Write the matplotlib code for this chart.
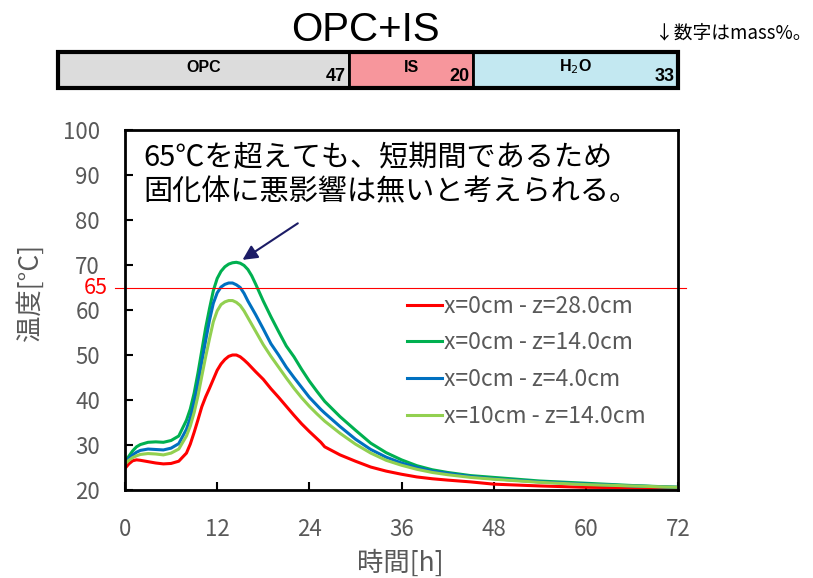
import matplotlib
matplotlib.use('Agg')
import matplotlib.pyplot as plt

plt.rcParams['font.family'] = ['Noto Sans CJK JP', 'DejaVu Sans']

# composition bar (mass%)
parts = ['OPC', 'IS', 'H$_2$O']
part_pct = [47, 20, 33]
part_colors = ['#DCDCDC', '#F7969C', '#C3E8F1']

# temperature curves
hours = [0, 0.5, 1, 1.5, 2, 3, 4, 5, 6, 7,
         8, 8.5, 9, 9.5, 10, 10.5, 11, 11.5, 12, 12.5, 13, 13.5, 14, 14.5, 15, 15.5, 16, 16.5,
         17, 18, 19, 20, 21, 22, 23, 24,
         25, 25.5, 26,
         28, 30, 32, 34, 36, 38, 40, 42,
         45, 48, 54, 60, 66, 72]
t_x0_z28 = [24.8, 25.8, 26.5, 26.7, 26.6, 26.3, 26.0, 25.8, 25.9, 26.4,
            28.2, 30.2, 32.8, 35.6, 38.5, 40.7, 42.6, 44.6, 46.6, 48.0, 49.0, 49.7, 50.0, 50.0,
            49.6, 48.9, 48.1, 47.2,
            46.3, 44.6, 42.5, 40.6, 38.6, 36.6, 34.7, 33.0,
            31.4, 30.6, 29.6,
            27.8, 26.4, 25.1, 24.2, 23.5, 22.9, 22.5, 22.2,
            21.8, 21.3, 20.9, 20.6, 20.5, 20.4]
t_x0_z14 = [26.2, 27.5, 28.7, 29.6, 30.1, 30.6, 30.7, 30.6, 31.0, 32.0,
            35.5, 38.0, 41.5, 46.0, 51.0, 56.0, 60.3, 64.3, 67.0, 68.6, 69.6, 70.2, 70.5, 70.6,
            70.4, 69.9, 69.0, 67.6,
            65.8, 62.0, 58.5, 55.2, 52.0, 49.6, 46.8, 44.2,
            41.9, 40.8, 39.7,
            36.3, 33.3, 30.4, 28.3, 26.7, 25.4, 24.5, 23.9,
            23.2, 22.8, 22.0, 21.5, 21.0, 20.6]
t_x0_z4 = [26.0, 27.0, 27.8, 28.4, 28.8, 29.1, 29.0, 28.9, 29.3, 30.3,
           33.5, 36.0, 39.5, 43.7, 48.5, 53.2, 57.7, 61.5, 63.8, 65.1, 65.7, 66.0, 66.0, 65.6,
           65.0, 63.7, 62.0, 60.5,
           59.0, 55.8, 52.5, 50.0, 47.3, 45.0, 42.8, 40.6,
           38.8, 37.9, 37.1,
           34.1, 31.3, 29.0, 27.3, 26.0, 25.0, 24.2, 23.7,
           23.0, 22.5, 21.8, 21.3, 20.9, 20.6]
t_x10_z14 = [25.8, 26.6, 27.2, 27.6, 27.9, 28.1, 28.0, 27.8, 28.2, 29.1,
             32.0, 34.2, 37.2, 40.9, 45.3, 49.6, 53.6, 57.4, 59.8, 61.2, 61.8, 62.1, 62.1, 61.7,
             61.0, 59.8, 58.3, 56.8,
             55.3, 52.3, 49.7, 47.3, 44.9, 42.6, 40.5, 38.6,
             36.9, 36.1, 35.3,
             32.6, 30.2, 28.2, 26.6, 25.5, 24.6, 23.9, 23.4,
             22.8, 22.4, 21.7, 21.2, 20.9, 20.6]
series = [t_x0_z28, t_x0_z14, t_x0_z4, t_x10_z14]
labels = ['x=0cm - z=28.0cm', 'x=0cm - z=14.0cm', 'x=0cm - z=4.0cm', 'x=10cm - z=14.0cm']
colors = ['#FF0000', '#00B050', '#0070C0', '#92D050']
limit = 65
gray = '#595959'

fig = plt.figure(figsize=(8.13, 5.78), dpi=100)

# --- composition bar ---
axb = fig.add_axes([58/813, 1-88/578, 620/813, 36/578])
left = 0
for name, p, c in zip(parts, part_pct, part_colors):
    axb.barh(0, p, left=left, height=1, color=c, edgecolor='black', lw=2, clip_on=False)
    axb.text(left + p/2, 0.08, name, ha='center', va='center', fontsize=11.5,
             fontweight='bold', family='Liberation Sans')
    axb.text(left + p - 0.6, -0.17, str(p), ha='right', va='center', fontsize=13,
             fontweight='bold', family='Liberation Sans')
    left += p
axb.set_xlim(0, 100)
axb.set_ylim(-0.5, 0.5)
axb.axis('off')
axb.add_patch(plt.Rectangle((0, -0.5), 100, 1, fill=False, lw=3, ec='black', clip_on=False))

fig.text(365/813, 1-30/578, 'OPC+IS', ha='center', va='center', fontsize=29,
         family='Liberation Sans')
fig.text(655/813, 1-33/578, '↓数字はmass%。', ha='left', va='center', fontsize=13.5)

# --- temperature plot ---
ax = fig.add_axes([125/813, 1-490/578, 553/813, 360/578])
for y, lab, c in zip(series, labels, colors):
    ax.plot(hours, y, color=c, lw=2.2, label=lab)
ax.plot([-1.3, 73], [limit, limit], color='red', lw=0.8, clip_on=False)

ax.set_xlim(0, 72)
ax.set_ylim(20, 100)
ax.set_xticks(range(0, 73, 12))
ax.set_yticks(range(20, 101, 10))
ax.tick_params(direction='in', length=6, width=1.5, colors='black',
               labelcolor=gray, labelsize=16)
ax.tick_params(axis='y', pad=18)
ax.tick_params(axis='x', pad=20)
for s in ax.spines.values():
    s.set_linewidth(2)

fig.text(108/813, 1-288/578, str(limit), color='red', ha='right', va='center', fontsize=15.5)
fig.text(30/813, 1-292/578, '温度[°C]', rotation=90, ha='center', va='center',
         fontsize=19, color=gray)
fig.text(400/813, 1-563/578, '時間[h]', ha='center', va='center', fontsize=19, color=gray)

leg = ax.legend(loc='upper left', bbox_to_anchor=(0.472, 0.60), frameon=False,
                fontsize=16.5, handlelength=1.55, handletextpad=0.1, labelspacing=0.6,
                labelcolor=gray)

fig.text(143/813, 1-158/578, '65℃を超えても、短期間であるため', ha='left', va='center', fontsize=21)
fig.text(143/813, 1-192/578, '固化体に悪影響は無いと考えられる。', ha='left', va='center', fontsize=21)

ax.annotate('', xy=(15.0, 70.8), xytext=(22.8, 79.6),
            arrowprops=dict(arrowstyle='-|>', color='#1C1C66', lw=1.5, mutation_scale=22))

fig.savefig('out.png', dpi=100)
